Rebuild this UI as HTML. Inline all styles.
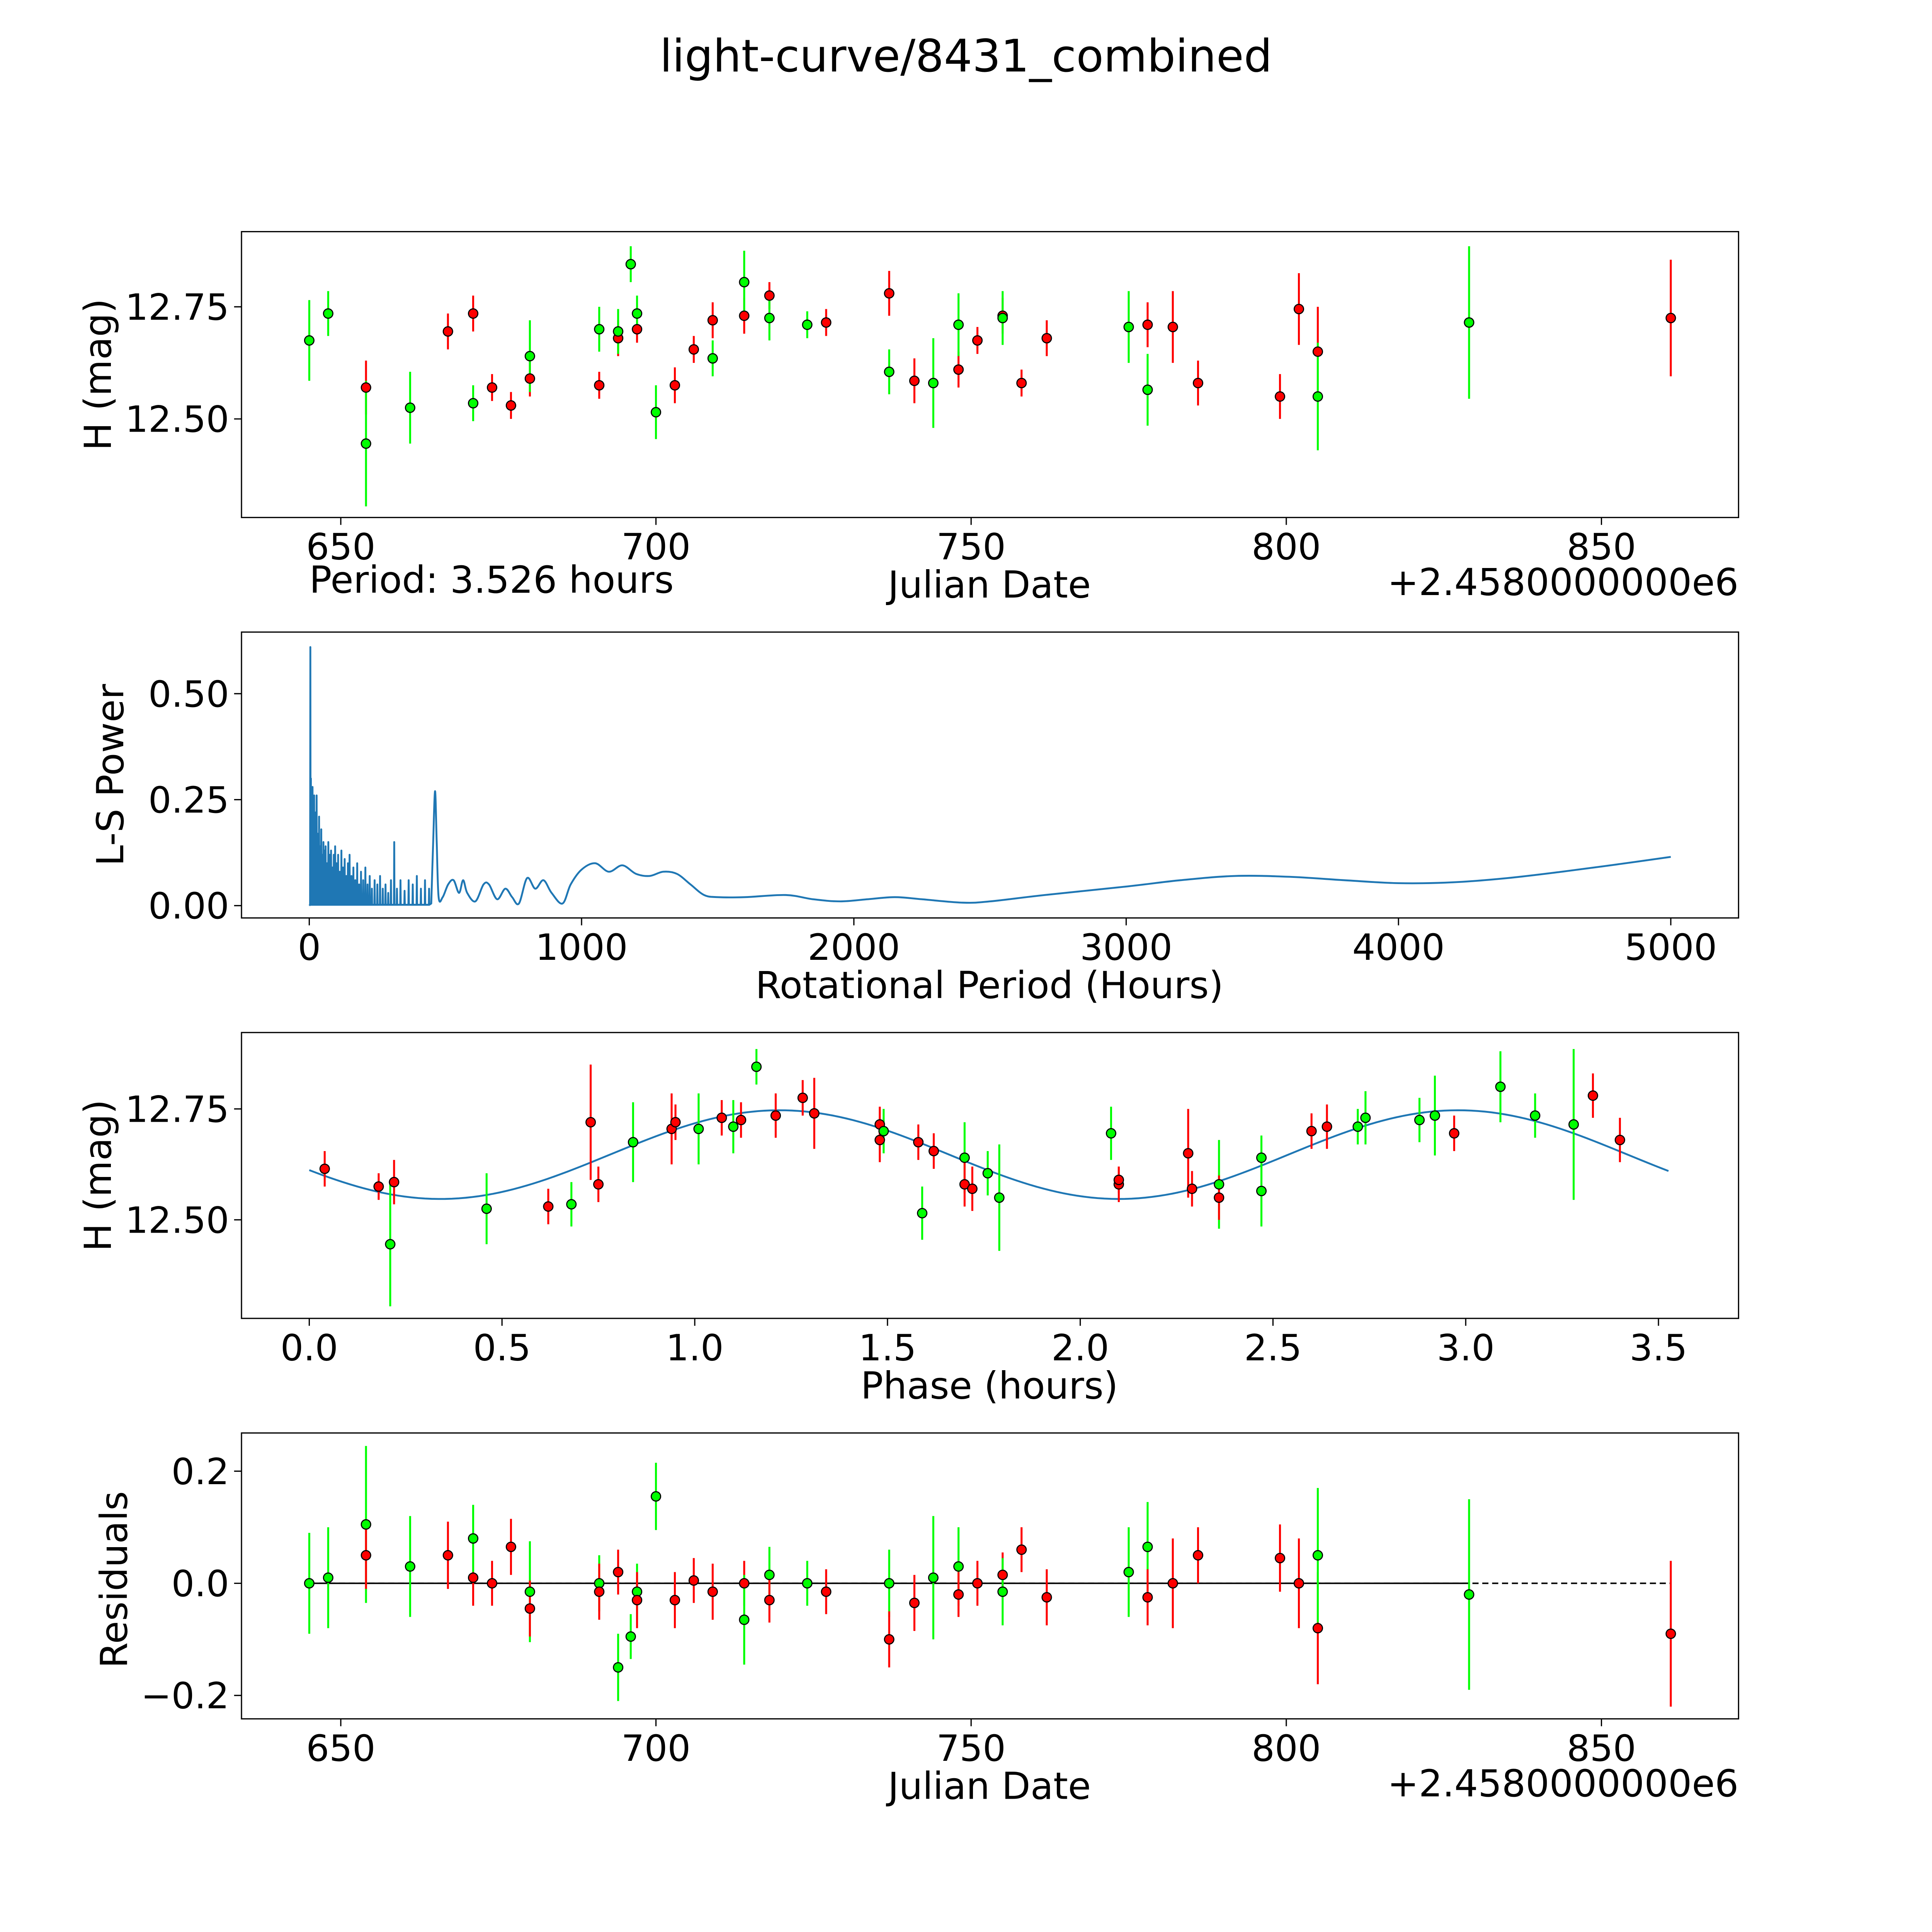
<!DOCTYPE html>
<html><head><meta charset="utf-8">
<style>
html,body{margin:0;padding:0;background:#fff;width:100%;height:100%;overflow:hidden;}
svg{display:block;position:fixed;left:0;top:0;width:100vw;height:100vh;}
text{font-family:"DejaVu Sans","Liberation Sans",sans-serif;fill:#000;}
</style></head>
<body>
<svg id="chart" xmlns="http://www.w3.org/2000/svg" viewBox="0 0 1568 1568" preserveAspectRatio="none">
<rect x="0" y="0" width="1568" height="1568" fill="#fff"/>
<text x="784" y="58" font-size="36.3" text-anchor="middle">light-curve/8431_combined</text>
<g id="g1"></g>
<g id="g2"></g>
<g id="g3"></g>
<g id="g4"></g>
</svg>
<script>
// ---- Data ----
const lcColor = ["g","g","r","g","g","r","r","g","r","r","r","g","r","g","r","g","g","r","g","g","r","r","r","g","r","g","r","g","g","r","r","g","r","g","r","g","r","r","g","r","r","g","r","g","r","r","r","r","r","g","g","r"];
const lcDate  = [645,648,654,654,661,667,671,671,674,677,680,680,691,691,694,694,696,697,697,700,703,706,709,709,714,714,718,718,724,727,737,737,741,744,748,748,751,755,755,758,762,775,778,778,782,786,799,802,805,805,829,861];
const lcMag   = [12.675,12.735,12.57,12.445,12.525,12.695,12.735,12.535,12.57,12.53,12.59,12.64,12.575,12.70,12.68,12.695,12.845,12.70,12.735,12.515,12.575,12.655,12.72,12.635,12.73,12.805,12.775,12.725,12.71,12.715,12.78,12.605,12.585,12.58,12.61,12.71,12.675,12.73,12.725,12.58,12.68,12.705,12.71,12.565,12.705,12.58,12.55,12.745,12.65,12.55,12.715,12.725];
const lcErr   = [0.09,0.05,0.06,0.14,0.08,0.04,0.04,0.04,0.03,0.03,0.04,0.08,0.03,0.05,0.04,0.05,0.04,0.03,0.04,0.06,0.04,0.03,0.04,0.04,0.04,0.07,0.03,0.05,0.03,0.03,0.05,0.05,0.05,0.10,0.04,0.07,0.03,0.04,0.06,0.03,0.04,0.08,0.05,0.08,0.08,0.05,0.05,0.08,0.10,0.12,0.17,0.13];

const resColor = ["g","g","g","r","g","r","r","g","r","r","g","r","g","r","r","g","g","g","r","g","r","r","r","r","g","g","r","g","r","g","r","r","g","g","r","r","r","g","r","r","g","g","r","r","r","r","r","r","g","g","r"];
const resDate  = [645,648,654,654,661,667,671,671,674,677,680,680,691,691,694,694,696,697,697,700,703,706,709,714,714,718,718,724,727,737,737,741,744,748,748,751,755,755,758,762,775,778,778,782,786,799,802,805,805,829,861];
const resVal   = [0.0,0.01,0.105,0.05,0.03,0.05,0.01,0.08,0.0,0.065,-0.015,-0.045,0.0,-0.015,0.02,-0.15,-0.095,-0.015,-0.03,0.155,-0.03,0.005,-0.015,0.0,-0.065,0.015,-0.03,0.0,-0.015,0.0,-0.1,-0.035,0.01,0.03,-0.02,0.0,0.015,-0.015,0.06,-0.025,0.02,0.065,-0.025,0.0,0.05,0.045,0.0,-0.08,0.05,-0.02,-0.09];
const resErr   = [0.09,0.09,0.14,0.06,0.09,0.06,0.05,0.06,0.04,0.05,0.09,0.05,0.05,0.05,0.04,0.06,0.04,0.05,0.05,0.06,0.05,0.04,0.05,0.04,0.08,0.05,0.04,0.04,0.04,0.06,0.05,0.05,0.11,0.07,0.04,0.04,0.04,0.06,0.04,0.05,0.08,0.08,0.05,0.08,0.05,0.06,0.08,0.10,0.12,0.17,0.13];

const phColor = ["r","r","r","g","g","r","g","r","r","g","r","r","g","r","g","r","g","r","r","r","r","r","g","r","g","r","g","r","r","g","g","g","r","r","r","r","g","r","g","g","r","r","g","g","g","g","r","g","g","g","r","r"];
const phPhase = [0.04,0.18,0.22,0.21,0.46,0.62,0.68,0.73,0.75,0.84,0.94,0.95,1.01,1.07,1.10,1.12,1.16,1.21,1.28,1.31,1.48,1.48,1.49,1.58,1.59,1.62,1.70,1.70,1.72,1.76,1.79,2.08,2.10,2.10,2.28,2.29,2.36,2.36,2.47,2.47,2.60,2.64,2.72,2.74,2.88,2.92,2.97,3.09,3.18,3.28,3.33,3.40];
const phMag   = [12.615,12.575,12.585,12.445,12.525,12.53,12.535,12.72,12.58,12.675,12.705,12.72,12.705,12.73,12.71,12.725,12.845,12.735,12.775,12.74,12.715,12.68,12.70,12.675,12.515,12.655,12.64,12.58,12.57,12.605,12.55,12.695,12.58,12.59,12.65,12.57,12.58,12.55,12.64,12.565,12.70,12.71,12.71,12.73,12.725,12.735,12.695,12.80,12.735,12.715,12.78,12.68];
const phErr   = [0.04,0.03,0.05,0.14,0.08,0.04,0.05,0.13,0.04,0.09,0.08,0.04,0.08,0.04,0.06,0.04,0.04,0.05,0.04,0.08,0.04,0.05,0.05,0.04,0.06,0.04,0.08,0.05,0.05,0.05,0.12,0.06,0.04,0.03,0.10,0.04,0.10,0.05,0.05,0.08,0.04,0.05,0.04,0.06,0.05,0.09,0.04,0.08,0.05,0.17,0.05,0.05];
// sine fit parameters
const fitMean = 12.647, fitAmp = 0.1, fitPeak = 1.22, fitCycle = 1.76, fitEnd = 3.526;

// periodogram: dense spike region then smooth region
const lsSpikeP = [4,6,9,12,15,18,21,24,27,30,33,36,40,44,48,52,56,60,65,70,75,80,85,90,95,100,106,112,118,124,130,136,142,148,155,162,169,176,183,190,198,206,214,222,230,240,250,260,270,280,290,300,312,322,335,350,365,380,395,410,425,440];
const lsSpikeV = [0.61,0.30,0.24,0.28,0.20,0.26,0.18,0.22,0.26,0.17,0.15,0.21,0.14,0.18,0.12,0.15,0.13,0.14,0.10,0.15,0.12,0.13,0.09,0.12,0.14,0.10,0.12,0.08,0.13,0.09,0.11,0.07,0.10,0.12,0.07,0.09,0.06,0.10,0.05,0.08,0.06,0.09,0.05,0.07,0.04,0.06,0.05,0.07,0.04,0.05,0.03,0.06,0.15,0.04,0.06,0.035,0.06,0.05,0.07,0.04,0.06,0.04];
const lsSmoothP = [448,455,462,468,475,490,510,530,550,565,580,610,640,660,690,720,745,770,800,830,860,890,930,960,1000,1050,1100,1150,1200,1250,1300,1350,1400,1450,1500,1600,1750,1850,1950,2050,2150,2250,2400,2500,2700,3000,3200,3400,3600,3800,4000,4200,4400,4600,4800,5000];
const lsSmoothV = [0.005,0.15,0.27,0.15,0.02,0.02,0.05,0.06,0.03,0.06,0.03,0.01,0.05,0.05,0.015,0.04,0.02,0.005,0.065,0.04,0.06,0.03,0.005,0.05,0.085,0.10,0.08,0.095,0.075,0.07,0.08,0.075,0.05,0.025,0.02,0.02,0.025,0.015,0.01,0.015,0.02,0.015,0.007,0.01,0.025,0.045,0.06,0.07,0.068,0.06,0.053,0.055,0.065,0.08,0.097,0.115];

const xTicksJD = [650,700,750,800,850];
const yTicksMag = [12.50,12.75];
const xTicksLS = [0,1000,2000,3000,4000,5000];
const yTicksLS = [0.00,0.25,0.50];
const xTicksPh = [0.0,0.5,1.0,1.5,2.0,2.5,3.0,3.5];
const yTicksRes = [-0.2,0.0,0.2];

// ---- Helpers ----
const NS="http://www.w3.org/2000/svg";
function mk(tag,attrs,parent){const e=document.createElementNS(NS,tag);for(const k in attrs)e.setAttribute(k,attrs[k]);parent.appendChild(e);return e;}
function lin(d0,d1,r0,r1){return v=>r0+(v-d0)*(r1-r0)/(d1-d0);}
const L=196,R=1411,TF=29.5,LF=30.3;
function frame(g,top,bot){
  const r=mk('rect',{x:L,y:top,width:R-L,height:bot-top,fill:'none',stroke:'#000','stroke-width':1},g);
  
  
}
function xticks(g,ticks,sx,bot,fmt){
  ticks.forEach(t=>{
    const x=sx(t);
    mk('line',{x1:x,x2:x,y1:bot,y2:bot+6,stroke:'#000','stroke-width':1},g);
    const tx=mk('text',{x:x,y:bot+34,'font-size':TF,'text-anchor':'middle'},g);
    tx.textContent=fmt(t);
    
    
  });
}
function yticks(g,ticks,sy,fmt){
  ticks.forEach(t=>{
    const y=sy(t);
    mk('line',{x1:L-6,x2:L,y1:y,y2:y,stroke:'#000','stroke-width':1},g);
    const tx=mk('text',{x:L-10,y:y+10.5,'font-size':TF,'text-anchor':'end'},g);
    tx.textContent=fmt(t);
    
    
  });
}
function label(g,txt,x,y,rot,name,anchor){
  const t=mk('text',{x:x,y:y,'font-size':LF,'text-anchor':anchor||'middle'},g);
  if(rot)t.setAttribute('transform','rotate(-90 '+x+' '+y+')');
  t.textContent=txt;
  
  
}
function points(g,xs,ys,es,cs,sx,sy){
  xs.forEach((v,i)=>{
    const x=sx(v),col=cs[i]==='r'?'#ff0000':'#00ff00';
    const ln=mk('line',{x1:x,x2:x,y1:sy(ys[i]-es[i]),y2:sy(ys[i]+es[i]),stroke:col,'stroke-width':1.6},g);
    
    
  });
  xs.forEach((v,i)=>{
    const col=cs[i]==='r'?'#ff0000':'#00ff00';
    const c=mk('circle',{cx:sx(v),cy:sy(ys[i]),r:3.8,fill:col,stroke:'#000','stroke-width':0.9},g);
    
    
  });
}
const jdX=lin(645,861,251,1356);
const f2=v=>v.toFixed(2), f0=v=>String(v), f1=v=>v.toFixed(1);

// Panel 1
(function(){
  const g=document.getElementById('g1'),top=188,bot=420;
  const sy=lin(12.50,12.75,340,249);
  points(g,lcDate,lcMag,lcErr,lcColor,jdX,sy);
  frame(g,top,bot);
  xticks(g,xTicksJD,jdX,bot,f0); yticks(g,yTicksMag,sy,f2);
  label(g,'H (mag)',90,304,true,'y-axis-title');
  label(g,'Julian Date',803,485,false,'x-axis-title');
  label(g,'+2.4580000000e6',1411,483,false,'x-offset-label','end');
  label(g,'Period: 3.526 hours',251,481,false,'period-label','start');
})();

// Panel 2
(function(){
  const g=document.getElementById('g2'),top=513,bot=745;
  const sx=lin(0,5000,251,1356), sy=lin(0,0.5,735,563);
  let d='M'+sx(0)+' '+sy(0);
  lsSpikeP.forEach((p,i)=>{
    d+=' L'+sx(p-1).toFixed(2)+' '+sy(0.002).toFixed(2);
    d+=' L'+sx(p).toFixed(2)+' '+sy(lsSpikeV[i]).toFixed(2);
    d+=' L'+sx(p+1).toFixed(2)+' '+sy(0.002).toFixed(2);
  });
  const pts=lsSmoothP.map((p,i)=>[sx(p),sy(lsSmoothV[i])]);
  d+=' L'+pts[0][0].toFixed(2)+' '+pts[0][1].toFixed(2);
  for(let i=0;i<pts.length-1;i++){
    const p0=pts[Math.max(0,i-1)],p1=pts[i],p2=pts[i+1],p3=pts[Math.min(pts.length-1,i+2)];
    const c1=[p1[0]+(p2[0]-p0[0])/6,p1[1]+(p2[1]-p0[1])/6];
    const c2=[p2[0]-(p3[0]-p1[0])/6,p2[1]-(p3[1]-p1[1])/6];
    d+=' C'+c1[0].toFixed(2)+' '+c1[1].toFixed(2)+' '+c2[0].toFixed(2)+' '+c2[1].toFixed(2)+' '+p2[0].toFixed(2)+' '+p2[1].toFixed(2);
  }
  const path=mk('path',{d:d,fill:'none',stroke:'#1f77b4','stroke-width':1.5,'stroke-linejoin':'round'},g);
  
  
  frame(g,top,bot);
  xticks(g,xTicksLS,sx,bot,f0); yticks(g,yTicksLS,sy,f2);
  label(g,'L-S Power',100,629,true,'y-axis-title');
  label(g,'Rotational Period (Hours)',803,810,false,'x-axis-title');
})();

// Panel 3
(function(){
  const g=document.getElementById('g3'),top=838,bot=1070;
  const sx=lin(0,3.5,251,1346), sy=lin(12.50,12.75,990,900);
  let d='';
  for(let i=0;i<=200;i++){const x=fitEnd*i/200,y=fitMean+fitAmp*Math.cos(2*Math.PI*(x-fitPeak)/fitCycle);d+=(i?'L':'M')+sx(x).toFixed(2)+' '+sy(y).toFixed(2)+' ';}
  const p=mk('path',{d:d,fill:'none',stroke:'#1f77b4','stroke-width':1.5},g);
  
  
  points(g,phPhase,phMag,phErr,phColor,sx,sy);
  frame(g,top,bot);
  xticks(g,xTicksPh,sx,bot,f1); yticks(g,yTicksMag,sy,f2);
  label(g,'H (mag)',90,954,true,'y-axis-title');
  label(g,'Phase (hours)',803,1135,false,'x-axis-title');
})();

// Panel 4
(function(){
  const g=document.getElementById('g4'),top=1163,bot=1395;
  const sy=lin(0,0.2,1285,1194);
  const z=mk('line',{x1:jdX(645),x2:jdX(861),y1:sy(0),y2:sy(0),stroke:'#000','stroke-width':1.2,'stroke-dasharray':'5,3'},g);
  
  
  const z2=mk('line',{x1:jdX(645),x2:jdX(829),y1:sy(0),y2:sy(0),stroke:'#000','stroke-width':1.2},g);
  
  
  points(g,resDate,resVal,resErr,resColor,jdX,sy);
  frame(g,top,bot);
  xticks(g,xTicksJD,jdX,bot,f0);
  yticks(g,yTicksRes,sy,v=>(v<0?'\u2212':'')+Math.abs(v).toFixed(1));
  label(g,'Residuals',103,1282,true,'y-axis-title');
  label(g,'Julian Date',803,1460,false,'x-axis-title');
  label(g,'+2.4580000000e6',1411,1458,false,'x-offset-label','end');
})();
</script>
</body></html>
